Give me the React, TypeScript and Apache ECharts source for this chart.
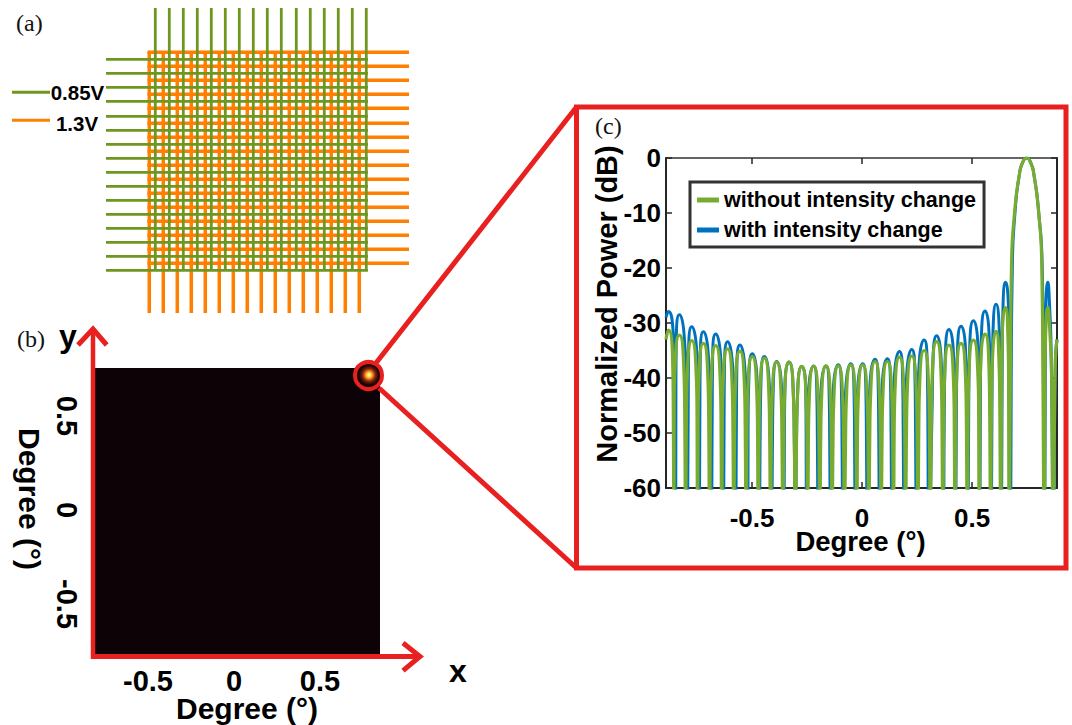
import React, { useEffect, useRef } from "react";
import * as echarts from "echarts";

// Panel (a): wire positions, in units of one element pitch
const greenColumns = [0, 1, 2, 3, 4, 5, 6, 7, 8, 9, 10.07, 11.07, 12.07, 13.07, 14.07, 15.07];
const greenRows = [0, 1, 2, 3, 4.07, 5.07, 6.07, 7.07, 8.07, 9.07, 10.07, 11.07, 12.07, 13.07, 14.07, 15.07];
const orangeColumns = [-0.43, 0.57, 1.57, 2.57, 3.57, 4.57, 5.57, 6.57, 7.57, 8.57, 9.57, 10.57, 11.57, 12.57, 13.57, 14.57];
const orangeRows = [-0.5, 0.5, 1.5, 2.5, 3.5, 4.57, 5.57, 6.57, 7.57, 8.57, 9.57, 10.57, 11.57, 12.57, 13.57, 14.57];
const greenColumnSpan = [-3.66, 15.07];
const greenRowSpan = [-3.52, 15.19];
const orangeColumnSpan = [-0.5, 18.12];
const orangeRowSpan = [-0.56, 18.12];

// Panel (b): position of the focused beam, degrees
const beamSpot = [0.785, 0.718];

// Panel (c): far-field pattern, degrees and dB, one row per side lobe
const degreesWithout = [
  -0.891, -0.88, -0.862, -0.858, -0.855,
  -0.854, -0.848, -0.83, -0.812, -0.806, -0.802,
  -0.798, -0.792, -0.774, -0.756, -0.75, -0.748,
  -0.745, -0.739, -0.721, -0.703, -0.697, -0.693,
  -0.689, -0.683, -0.665, -0.647, -0.641, -0.638,
  -0.635, -0.629, -0.611, -0.593, -0.587, -0.583,
  -0.579, -0.573, -0.555, -0.537, -0.531, -0.527,
  -0.523, -0.517, -0.499, -0.481, -0.475, -0.472,
  -0.468, -0.462, -0.444, -0.426, -0.42, -0.416,
  -0.412, -0.406, -0.388, -0.37, -0.364, -0.36,
  -0.356, -0.35, -0.332, -0.314, -0.308, -0.303,
  -0.298, -0.292, -0.274, -0.256, -0.25, -0.247,
  -0.244, -0.238, -0.22, -0.202, -0.196, -0.192,
  -0.188, -0.182, -0.164, -0.146, -0.14, -0.136,
  -0.132, -0.126, -0.108, -0.09, -0.084, -0.08,
  -0.075, -0.069, -0.051, -0.033, -0.027, -0.024,
  -0.021, -0.015, 0.003, 0.021, 0.027, 0.031,
  0.035, 0.041, 0.059, 0.077, 0.083, 0.087,
  0.091, 0.097, 0.115, 0.133, 0.139, 0.143,
  0.146, 0.152, 0.17, 0.188, 0.194, 0.198,
  0.202, 0.208, 0.226, 0.244, 0.25, 0.254,
  0.258, 0.264, 0.282, 0.3, 0.306, 0.31,
  0.315, 0.321, 0.339, 0.357, 0.363, 0.367,
  0.371, 0.377, 0.395, 0.413, 0.419, 0.422,
  0.426, 0.432, 0.45, 0.468, 0.474, 0.478,
  0.482, 0.488, 0.506, 0.524, 0.53, 0.532,
  0.535, 0.541, 0.559, 0.575, 0.58, 0.584,
  0.588, 0.594, 0.609, 0.621, 0.626, 0.63,
  0.634, 0.638, 0.652, 0.662, 0.666, 0.668,
  0.674, 0.679, 0.693, 0.715, 0.73, 0.748, 0.766, 0.781, 0.803, 0.817, 0.822, 0.828,
  0.831, 0.835, 0.844, 0.853, 0.862, 0.868,
  0.878, 0.886,
];
const withoutChange = [
  -33, -31.3, -35.3, -45.3, -75,
  -46.2, -36.2, -32.2, -36.2, -46.2, -75,
  -47.2, -37.2, -33.2, -37.2, -47.2, -75,
  -47.7, -37.7, -33.7, -37.7, -47.7, -75,
  -48.1, -38.1, -34.1, -38.1, -48.1, -75,
  -48.7, -38.7, -34.7, -38.7, -48.7, -75,
  -49.1, -39.1, -35.1, -39.1, -49.1, -75,
  -50.1, -40.1, -36.1, -40.1, -50.1, -75,
  -50.4, -40.4, -36.4, -40.4, -50.4, -75,
  -51.1, -41.1, -37.1, -41.1, -51.1, -75,
  -51.1, -41.1, -37.1, -41.1, -51.1, -75,
  -51.9, -41.9, -37.9, -41.9, -51.9, -75,
  -51.9, -41.9, -37.9, -41.9, -51.9, -75,
  -51.8, -41.8, -37.8, -41.8, -51.8, -75,
  -51.8, -41.8, -37.8, -41.8, -51.8, -75,
  -51.6, -41.6, -37.6, -41.6, -51.6, -75,
  -51.6, -41.6, -37.6, -41.6, -51.6, -75,
  -51, -41, -37, -41, -51, -75,
  -51, -41, -37, -41, -51, -75,
  -50.2, -40.2, -36.2, -40.2, -50.2, -75,
  -50, -40, -36, -40, -50, -75,
  -49, -39, -35, -39, -49, -75,
  -47.4, -37.4, -33.4, -37.4, -47.4, -75,
  -48, -38, -34, -38, -48, -75,
  -47.7, -37.7, -33.7, -37.7, -47.7, -75,
  -47.1, -37.1, -33.1, -37.1, -47.1, -75,
  -46, -36, -32, -36, -46, -75,
  -45.5, -35.5, -31.5, -35.5, -45.5, -75,
  -41.2, -31.2, -27.2, -31.2, -41.2, -75,
  -40, -20, -10, -3, -0.8, 0, -0.8, -3, -10, -20, -40, -75,
  -41.2, -31.2, -27.2, -31.2, -41.2, -75,
  -38, -33,
];
const degreesWith = [
  -0.891, -0.88, -0.858, -0.848, -0.847,
  -0.846, -0.844, -0.83, -0.808, -0.798, -0.794,
  -0.79, -0.788, -0.774, -0.752, -0.742, -0.74,
  -0.737, -0.735, -0.721, -0.699, -0.689, -0.685,
  -0.681, -0.679, -0.665, -0.643, -0.633, -0.63,
  -0.627, -0.625, -0.611, -0.589, -0.579, -0.575,
  -0.571, -0.569, -0.555, -0.533, -0.523, -0.519,
  -0.518, -0.514, -0.499, -0.478, -0.47, -0.467,
  -0.463, -0.459, -0.444, -0.423, -0.415, -0.411,
  -0.407, -0.403, -0.388, -0.367, -0.359, -0.355,
  -0.353, -0.35, -0.332, -0.314, -0.308, -0.303,
  -0.298, -0.292, -0.274, -0.256, -0.254, -0.253,
  -0.251, -0.242, -0.22, -0.206, -0.203, -0.199,
  -0.195, -0.186, -0.164, -0.15, -0.147, -0.143,
  -0.139, -0.13, -0.108, -0.094, -0.091, -0.087,
  -0.082, -0.073, -0.051, -0.037, -0.034, -0.031,
  -0.028, -0.019, 0.003, 0.017, 0.02, 0.024,
  0.028, 0.037, 0.059, 0.073, 0.076, 0.08,
  0.084, 0.093, 0.115, 0.129, 0.132, 0.136,
  0.139, 0.148, 0.17, 0.184, 0.187, 0.191,
  0.195, 0.204, 0.226, 0.24, 0.243, 0.247,
  0.251, 0.26, 0.282, 0.296, 0.299, 0.303,
  0.318, 0.323, 0.339, 0.359, 0.366, 0.37,
  0.374, 0.379, 0.395, 0.415, 0.422, 0.425,
  0.429, 0.434, 0.45, 0.47, 0.477, 0.481,
  0.485, 0.49, 0.506, 0.526, 0.533, 0.535,
  0.538, 0.543, 0.559, 0.577, 0.583, 0.587,
  0.591, 0.596, 0.609, 0.623, 0.629, 0.633,
  0.637, 0.641, 0.652, 0.665, 0.671, 0.675,
  0.678, 0.683, 0.695, 0.715, 0.73, 0.748, 0.766, 0.781, 0.803, 0.819, 0.825, 0.83,
  0.833, 0.836, 0.844, 0.852, 0.86, 0.87,
  0.878, 0.886,
];
const withChange = [
  -29, -27.9, -31.9, -41.9, -75,
  -42.5, -32.5, -28.5, -32.5, -42.5, -75,
  -44.7, -34.7, -30.7, -34.7, -44.7, -75,
  -45.6, -35.6, -31.6, -35.6, -45.6, -75,
  -46, -36, -32, -36, -46, -75,
  -47.4, -37.4, -33.4, -37.4, -47.4, -75,
  -48, -38, -34, -38, -48, -75,
  -49.6, -39.6, -35.6, -39.6, -49.6, -75,
  -50.1, -40.1, -36.1, -40.1, -50.1, -75,
  -51, -41, -37, -41, -51, -75,
  -51.1, -41.1, -37.1, -41.1, -51.1, -75,
  -51.9, -41.9, -37.9, -41.9, -51.9, -75,
  -51.8, -41.8, -37.8, -41.8, -51.8, -75,
  -51.8, -41.8, -37.8, -41.8, -51.8, -75,
  -51.6, -41.6, -37.6, -41.6, -51.6, -75,
  -51.4, -41.4, -37.4, -41.4, -51.4, -75,
  -51.4, -41.4, -37.4, -41.4, -51.4, -75,
  -50.6, -40.6, -36.6, -40.6, -50.6, -75,
  -50.5, -40.5, -36.5, -40.5, -50.5, -75,
  -49.2, -39.2, -35.2, -39.2, -49.2, -75,
  -48.8, -38.8, -34.8, -38.8, -48.8, -75,
  -47.1, -37.1, -33.1, -37.1, -47.1, -75,
  -46.3, -36.3, -32.3, -36.3, -46.3, -75,
  -45.2, -35.2, -31.2, -35.2, -45.2, -75,
  -44.6, -34.6, -30.6, -34.6, -44.6, -75,
  -43.6, -33.6, -29.6, -33.6, -43.6, -75,
  -41.8, -31.8, -27.8, -31.8, -41.8, -75,
  -40.6, -30.6, -26.6, -30.6, -40.6, -75,
  -36.6, -26.6, -22.6, -26.6, -36.6, -75,
  -40, -20, -10, -3, -0.8, 0, -0.8, -3, -10, -20, -40, -75,
  -36.6, -26.6, -22.6, -26.6, -36.6, -75,
  -38, -33,
];
const degreeTicks = [-0.5, 0, 0.5];
const seriesNames = ["with intensity change", "without intensity change"];

const GREEN = "#77ac30";
const BLUE = "#0072bd";
const WIRE_GREEN = "#6f971f";
const WIRE_ORANGE = "#ff7f00";
const RED = "#e8201f";
const SANS = "'Liberation Sans', Arial, sans-serif";
const SERIF = "'Liberation Serif', 'Times New Roman', serif";
const GAP = ["-", "-"];

const columnsPath = (cols: number[], span: number[]) =>
  cols.flatMap((c) => [[c, span[0]], [c, span[1]], GAP]);
const rowsPath = (rows: number[], span: number[]) =>
  rows.flatMap((r) => [[span[0], r], [span[1], r], GAP]);
const zip = (xs: number[], ys: number[]) => xs.map((x, i) => [x, ys[i]]);

const wire = (name: string, data: any[], color: string, width: number) => ({
  name,
  type: "line",
  xAxisIndex: 0,
  yAxisIndex: 0,
  data,
  showSymbol: false,
  symbol: "none",
  connectNulls: false,
  silent: true,
  lineStyle: { color, width, cap: "butt" },
  z: 2,
});

const caption = (text: string, x: number, y: number) => ({
  type: "text",
  x,
  y,
  z: 200,
  style: { text, fontFamily: SERIF, fontSize: 24, fill: "#111", align: "left", verticalAlign: "middle" },
});
const bold = (text: string, x: number, y: number, size: number, rotation = 0) => ({
  type: "text",
  x,
  y,
  rotation,
  z: 200,
  style: { text, fontFamily: SANS, fontWeight: "bold", fontSize: size, fill: "#000", align: "center", verticalAlign: "middle" },
});
const redLine = (shape: any, width = 5) => ({
  type: "line",
  z: 150,
  shape,
  style: { stroke: RED, lineWidth: width, lineCap: "butt" },
});
const redArrow = (points: number[][]) => ({
  type: "polyline",
  z: 151,
  shape: { points },
  style: { stroke: RED, lineWidth: 5, fill: "none", lineJoin: "miter" },
});

const hiddenAxis = (gridIndex: number, inverse = false) => ({
  type: "value",
  gridIndex,
  min: -4,
  max: 19,
  inverse,
  show: false,
});

export default function App() {
  const ref = useRef<HTMLDivElement>(null);
  useEffect(() => {
    const chart = echarts.init(ref.current!, undefined, { renderer: "svg" });
    const axisLabelC = { fontFamily: SANS, fontWeight: "bold", fontSize: 26, color: "#000" };
    const axisLabelB = { fontFamily: SANS, fontWeight: "bold", fontSize: 29, color: "#000" };
    const lineC = { show: true, onZero: false, lineStyle: { color: "#262626", width: 2 } };
    const tickC = { show: true, inside: true, length: 6, lineStyle: { color: "#262626", width: 1.5 } };
    chart.setOption({
      animation: false,
      backgroundColor: "#fff",
      grid: [
        { left: 99.3, top: 3.3, width: 322, height: 322, show: false },
        { left: 94, top: 368, width: 286, height: 287, show: true, backgroundColor: "#0d0206", borderWidth: 0 },
        { left: 666, top: 158, width: 391, height: 330, show: false },
      ],
      xAxis: [
        hiddenAxis(0),
        {
          type: "value",
          gridIndex: 1,
          min: -0.814,
          max: 0.849,
          axisLine: { show: false },
          axisTick: { show: false },
          splitLine: { show: false },
          axisLabel: { ...axisLabelB, margin: 11, customValues: degreeTicks },
        },
        {
          type: "value",
          gridIndex: 2,
          min: -0.891,
          max: 0.886,
          axisLine: lineC,
          axisTick: { ...tickC, customValues: degreeTicks },
          splitLine: { show: false },
          axisLabel: { ...axisLabelC, margin: 17, customValues: degreeTicks },
        },
        {
          type: "value",
          gridIndex: 2,
          position: "top",
          min: -0.891,
          max: 0.886,
          axisLine: { ...lineC, lineStyle: { color: "#333", width: 1.5 } },
          axisTick: { ...tickC, customValues: degreeTicks },
          splitLine: { show: false },
          axisLabel: { show: false },
        },
      ],
      yAxis: [
        hiddenAxis(0, true),
        {
          type: "value",
          gridIndex: 1,
          min: -0.771,
          max: 0.755,
          axisLine: { show: false },
          axisTick: { show: false },
          splitLine: { show: false },
          axisLabel: { ...axisLabelB, margin: 13, rotate: -90, customValues: degreeTicks },
        },
        {
          type: "value",
          gridIndex: 2,
          min: -60,
          max: 0,
          interval: 10,
          axisLine: lineC,
          axisTick: tickC,
          splitLine: { show: false },
          axisLabel: { ...axisLabelC, margin: 5 },
        },
        {
          type: "value",
          gridIndex: 2,
          position: "right",
          min: -60,
          max: 0,
          interval: 10,
          axisLine: lineC,
          axisTick: tickC,
          splitLine: { show: false },
          axisLabel: { show: false },
        },
      ],
      legend: {
        show: true,
        orient: "vertical",
        left: 690,
        top: 182,
        padding: [7, 8, 6, 7],
        itemGap: 8,
        itemWidth: 22,
        itemHeight: 5,
        icon: "rect",
        backgroundColor: "#fff",
        borderColor: "#333",
        borderWidth: 3,
        data: [seriesNames[1], seriesNames[0]],
        textStyle: { fontFamily: SANS, fontWeight: "bold", fontSize: 21.5, color: "#000" },
        z: 20,
      },
      series: [
        wire("orange rows", rowsPath(orangeRows, orangeRowSpan), WIRE_ORANGE, 3.5),
        wire("orange columns", columnsPath(orangeColumns, orangeColumnSpan), WIRE_ORANGE, 3.5),
        wire("green rows", rowsPath(greenRows, greenRowSpan), WIRE_GREEN, 2.8),
        wire("green columns", columnsPath(greenColumns, greenColumnSpan), WIRE_GREEN, 2.8),
        {
          name: "beam",
          type: "scatter",
          xAxisIndex: 1,
          yAxisIndex: 1,
          data: [beamSpot],
          symbolSize: 26,
          silent: true,
          itemStyle: {
            opacity: 1,
            color: {
              type: "radial",
              x: 0.5,
              y: 0.5,
              r: 0.5,
              colorStops: [
                { offset: 0, color: "#fff9c0" },
                { offset: 0.14, color: "#ffe060" },
                { offset: 0.3, color: "#f08010" },
                { offset: 0.5, color: "#802010" },
                { offset: 0.75, color: "#200505" },
                { offset: 1, color: "#0d0206" },
              ],
            },
          },
        },
        {
          name: seriesNames[0],
          type: "line",
          xAxisIndex: 2,
          yAxisIndex: 2,
          data: zip(degreesWith, withChange),
          showSymbol: false,
          symbol: "none",
          smooth: 0.6,
          lineStyle: { color: BLUE, width: 3 },
          itemStyle: { color: BLUE },
          z: 3,
        },
        {
          name: seriesNames[1],
          type: "line",
          xAxisIndex: 2,
          yAxisIndex: 2,
          data: zip(degreesWithout, withoutChange),
          showSymbol: false,
          symbol: "none",
          smooth: 0.6,
          lineStyle: { color: GREEN, width: 3.2 },
          itemStyle: { color: GREEN },
          z: 4,
        },
      ],
      graphic: [
        caption("(a)", 16, 23),
        caption("(b)", 17, 339),
        caption("(c)", 595, 126),
        { type: "line", z: 10, shape: { x1: 12, y1: 92.3, x2: 50, y2: 92.3 }, style: { stroke: WIRE_GREEN, lineWidth: 3 } },
        { type: "line", z: 10, shape: { x1: 12, y1: 120.3, x2: 50, y2: 120.3 }, style: { stroke: WIRE_ORANGE, lineWidth: 3 } },
        bold("0.85V", 77.5, 92.5, 20.5),
        bold("1.3V", 77, 123, 20.5),
        bold("y", 68, 336, 32),
        bold("x", 458, 671, 32),
        bold("Degree (°)", 247, 708, 30),
        bold("Degree (°)", 29, 499, 30, -Math.PI / 2),
        bold("Degree (°)", 860.5, 541, 27.5),
        bold("Normalized Power (dB)", 607, 304, 29, Math.PI / 2),
        redLine({ x1: 93, y1: 659, x2: 93, y2: 329 }, 4.5),
        redLine({ x1: 91, y1: 656.5, x2: 420, y2: 656.5 }),
        redArrow([[78, 345], [93, 329], [106.7, 345]]),
        redArrow([[403, 643], [420, 656.5], [403, 670.7]]),
        { type: "circle", z: 152, shape: { cx: 368.5, cy: 375.5, r: 13.5 }, style: { stroke: RED, lineWidth: 4, fill: "none" } },
        redLine({ x1: 376, y1: 363, x2: 576.5, y2: 107 }),
        redLine({ x1: 379, y1: 388, x2: 576.5, y2: 568 }),
        { type: "rect", z: 150, shape: { x: 576.5, y: 107, width: 489.5, height: 461 }, style: { stroke: RED, lineWidth: 5, fill: "none" } },
      ],
    });
    return () => chart.dispose();
  }, []);
  return <div ref={ref} style={{ position: "absolute", left: 0, top: 0, width: 1072, height: 725 }} />;
}
